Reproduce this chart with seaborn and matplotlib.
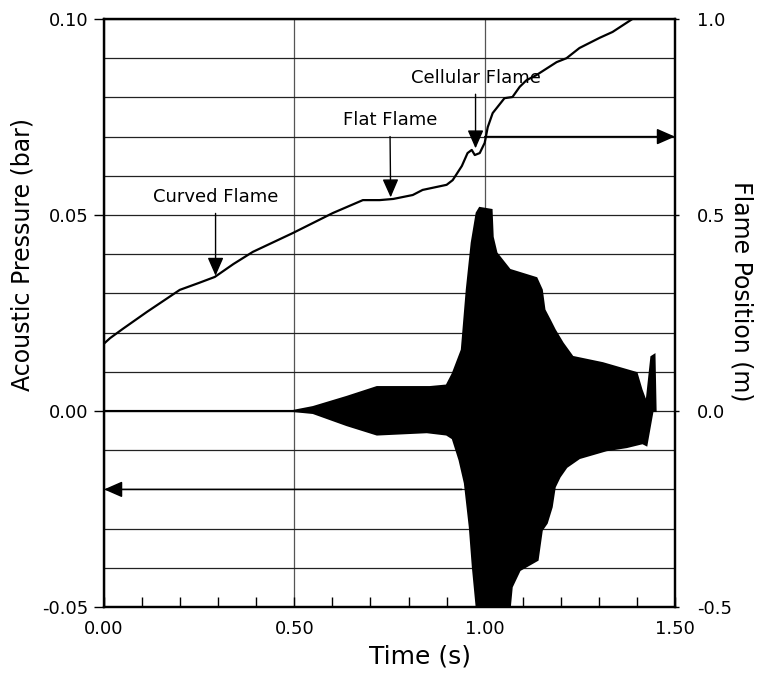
import matplotlib
matplotlib.use("Agg")
import matplotlib.pyplot as plt
from matplotlib.ticker import FormatStrFormatter, MultipleLocator
import numpy as np
import pandas as pd
import seaborn as sns

# Flame position (m) versus time (s)
flame_time = [0.0, 0.016, 0.05, 0.113, 0.199, 0.25, 0.291, 0.34, 0.391, 0.496,
              0.601, 0.680, 0.724, 0.76, 0.811, 0.837, 0.900, 0.916, 0.940, 0.955,
              0.966, 0.974, 0.987, 1.000, 1.008, 1.021, 1.052, 1.073, 1.092, 1.110,
              1.136, 1.189, 1.215, 1.249, 1.302, 1.336, 1.388]
flame_pos = [0.172, 0.186, 0.210, 0.253, 0.309, 0.327, 0.342, 0.375, 0.406, 0.454,
             0.505, 0.538, 0.538, 0.541, 0.551, 0.564, 0.577, 0.589, 0.625, 0.658,
             0.666, 0.653, 0.658, 0.684, 0.724, 0.760, 0.798, 0.801, 0.827, 0.844,
             0.857, 0.890, 0.900, 0.926, 0.952, 0.967, 1.000]

# Acoustic pressure (bar): upper and lower envelope of the oscillation
upper_time = [0.0, 0.496, 0.549, 0.638, 0.717, 0.856, 0.900, 0.916, 0.940, 0.953,
              0.966, 0.979, 0.987, 1.018, 1.021, 1.031, 1.066, 1.136, 1.150, 1.157,
              1.171, 1.184, 1.205, 1.231, 1.310, 1.399, 1.412, 1.425, 1.438, 1.446,
              1.449]
upper_p = [0.0, 0.0, 0.0010, 0.0036, 0.0061, 0.0061, 0.0065, 0.0095, 0.0156, 0.0309,
           0.0429, 0.0505, 0.0518, 0.0513, 0.0444, 0.0403, 0.0360, 0.0339, 0.0309, 0.0258,
           0.0232, 0.0207, 0.0173, 0.0138, 0.0122, 0.0097, 0.0054, 0.0020, 0.0138, 0.0143,
           0.0]
lower_time = [0.0, 0.496, 0.549, 0.638, 0.717, 0.848, 0.900, 0.916, 0.934, 0.948,
              0.961, 0.969, 0.979, 0.985, 1.060, 1.066, 1.071, 1.092, 1.139, 1.150,
              1.163, 1.176, 1.184, 1.197, 1.215, 1.249, 1.320, 1.373, 1.415, 1.425,
              1.441, 1.449]
lower_p = [0.0, 0.0, -0.0005, -0.0036, -0.0060, -0.0054, -0.0060, -0.0070, -0.0125, -0.0184,
           -0.0296, -0.0398, -0.0500, -0.0560, -0.0560, -0.0500, -0.0449, -0.0406, -0.0380, -0.0304,
           -0.0286, -0.0245, -0.0194, -0.0168, -0.0143, -0.0120, -0.0100, -0.0092, -0.0082, -0.0087,
           0.0, 0.0]

x_ticks = [0.0, 0.5, 1.0, 1.5]
p_ticks = [-0.05, 0.0, 0.05, 0.10]
pos_ticks = [-0.5, 0.0, 0.5, 1.0]

sns.set_theme(style="white")
plt.rcParams["font.family"] = ["DejaVu Sans"]
plt.rcParams["axes.unicode_minus"] = False
for key in ("text.color", "axes.labelcolor", "xtick.color", "ytick.color"):
    plt.rcParams[key] = "black"

fig = plt.figure(figsize=(7.61, 6.74), dpi=100)
ax = fig.add_axes([0.1367, 0.0994, 0.7503, 0.8724])
ax2 = ax.twinx()

# Pressure signal envelope
env_t = upper_time + lower_time[::-1]
env_p = upper_p + lower_p[::-1]
ax.fill(env_t, env_p, facecolor="black", edgecolor="black", lw=1.5, zorder=3)

# Flame position curve
flame_df = pd.DataFrame({"Time": flame_time, "Position": flame_pos})
sns.lineplot(data=flame_df, x="Time", y="Position", ax=ax2, color="black",
             lw=1.6, sort=False, zorder=4)

ax.set_xlim(0, 1.5)
ax.set_ylim(-0.05, 0.10)
ax2.set_ylim(-0.5, 1.0)

ax.set_xticks(x_ticks)
ax.xaxis.set_minor_locator(MultipleLocator(0.1))
ax.xaxis.set_major_formatter(FormatStrFormatter("%.2f"))
ax.set_yticks(p_ticks)
ax.yaxis.set_minor_locator(MultipleLocator(0.01))
ax.yaxis.set_major_formatter(FormatStrFormatter("%.2f"))
ax2.set_yticks(pos_ticks)
ax2.yaxis.set_major_formatter(FormatStrFormatter("%.1f"))

ax.grid(axis="y", which="both", color="#222222", lw=0.9, zorder=1)
ax.grid(axis="x", which="major", color="#555555", lw=0.9, zorder=1)
ax2.grid(False)
ax.set_axisbelow(True)

tick_fs = 13
ax.tick_params(axis="x", which="both", direction="in", length=7, width=1,
               color="black", labelcolor="black", labelsize=tick_fs, pad=9,
               bottom=True, top=False)
ax.tick_params(axis="y", which="major", direction="out", length=7, width=1,
               color="black", labelcolor="black", labelsize=tick_fs, pad=4, left=True)
ax.tick_params(axis="y", which="minor", length=0)
ax2.tick_params(axis="y", which="major", direction="out", length=3, width=1,
                color="black", labelcolor="black", labelsize=tick_fs, pad=13, right=True)

for a in (ax, ax2):
    for s in a.spines.values():
        s.set_linewidth(1.6)
        s.set_color("black")

ax.set_xlabel("Time (s)", fontsize=18, color="black")
ax.set_ylabel("Acoustic Pressure (bar)", fontsize=17, color="black")
ax2.set_ylabel("Flame Position (m)", fontsize=17, rotation=270, va="bottom", color="black")
ax.xaxis.set_label_coords(0.553, -0.063)
ax.yaxis.set_label_coords(-0.122, 0.60)
ax2.yaxis.set_label_coords(1.095, 0.537)

# Pointer arrows from each trace to its axis
arrow_kw = dict(arrowstyle="-|>,head_length=0.8,head_width=0.35", color="black",
                lw=1.1, shrinkA=0, shrinkB=0, mutation_scale=14)
ax.annotate("", xy=(1.5, 0.07), xytext=(1.0, 0.07), arrowprops=arrow_kw, zorder=5)
ax.annotate("", xy=(0.0, -0.02), xytext=(0.94, -0.02), arrowprops=arrow_kw, zorder=5)

# Flame shape labels
label_kw = dict(ha="center", va="center", fontsize=13, color="black", zorder=6)
ptr_kw = dict(arrowstyle="-|>,head_length=0.8,head_width=0.35", color="black",
              lw=1.0, shrinkA=3, shrinkB=0, mutation_scale=14)
ax2.annotate("Curved Flame", xy=(0.293, 0.345), xytext=(0.293, 0.546),
             arrowprops=ptr_kw, **label_kw)
ax2.annotate("Flat Flame", xy=(0.753, 0.545), xytext=(0.751, 0.742),
             arrowprops=ptr_kw, **label_kw)
ax2.annotate("Cellular Flame", xy=(0.976, 0.670), xytext=(0.976, 0.850),
             arrowprops=ptr_kw, **label_kw)

fig.savefig("out.png", dpi=100)
